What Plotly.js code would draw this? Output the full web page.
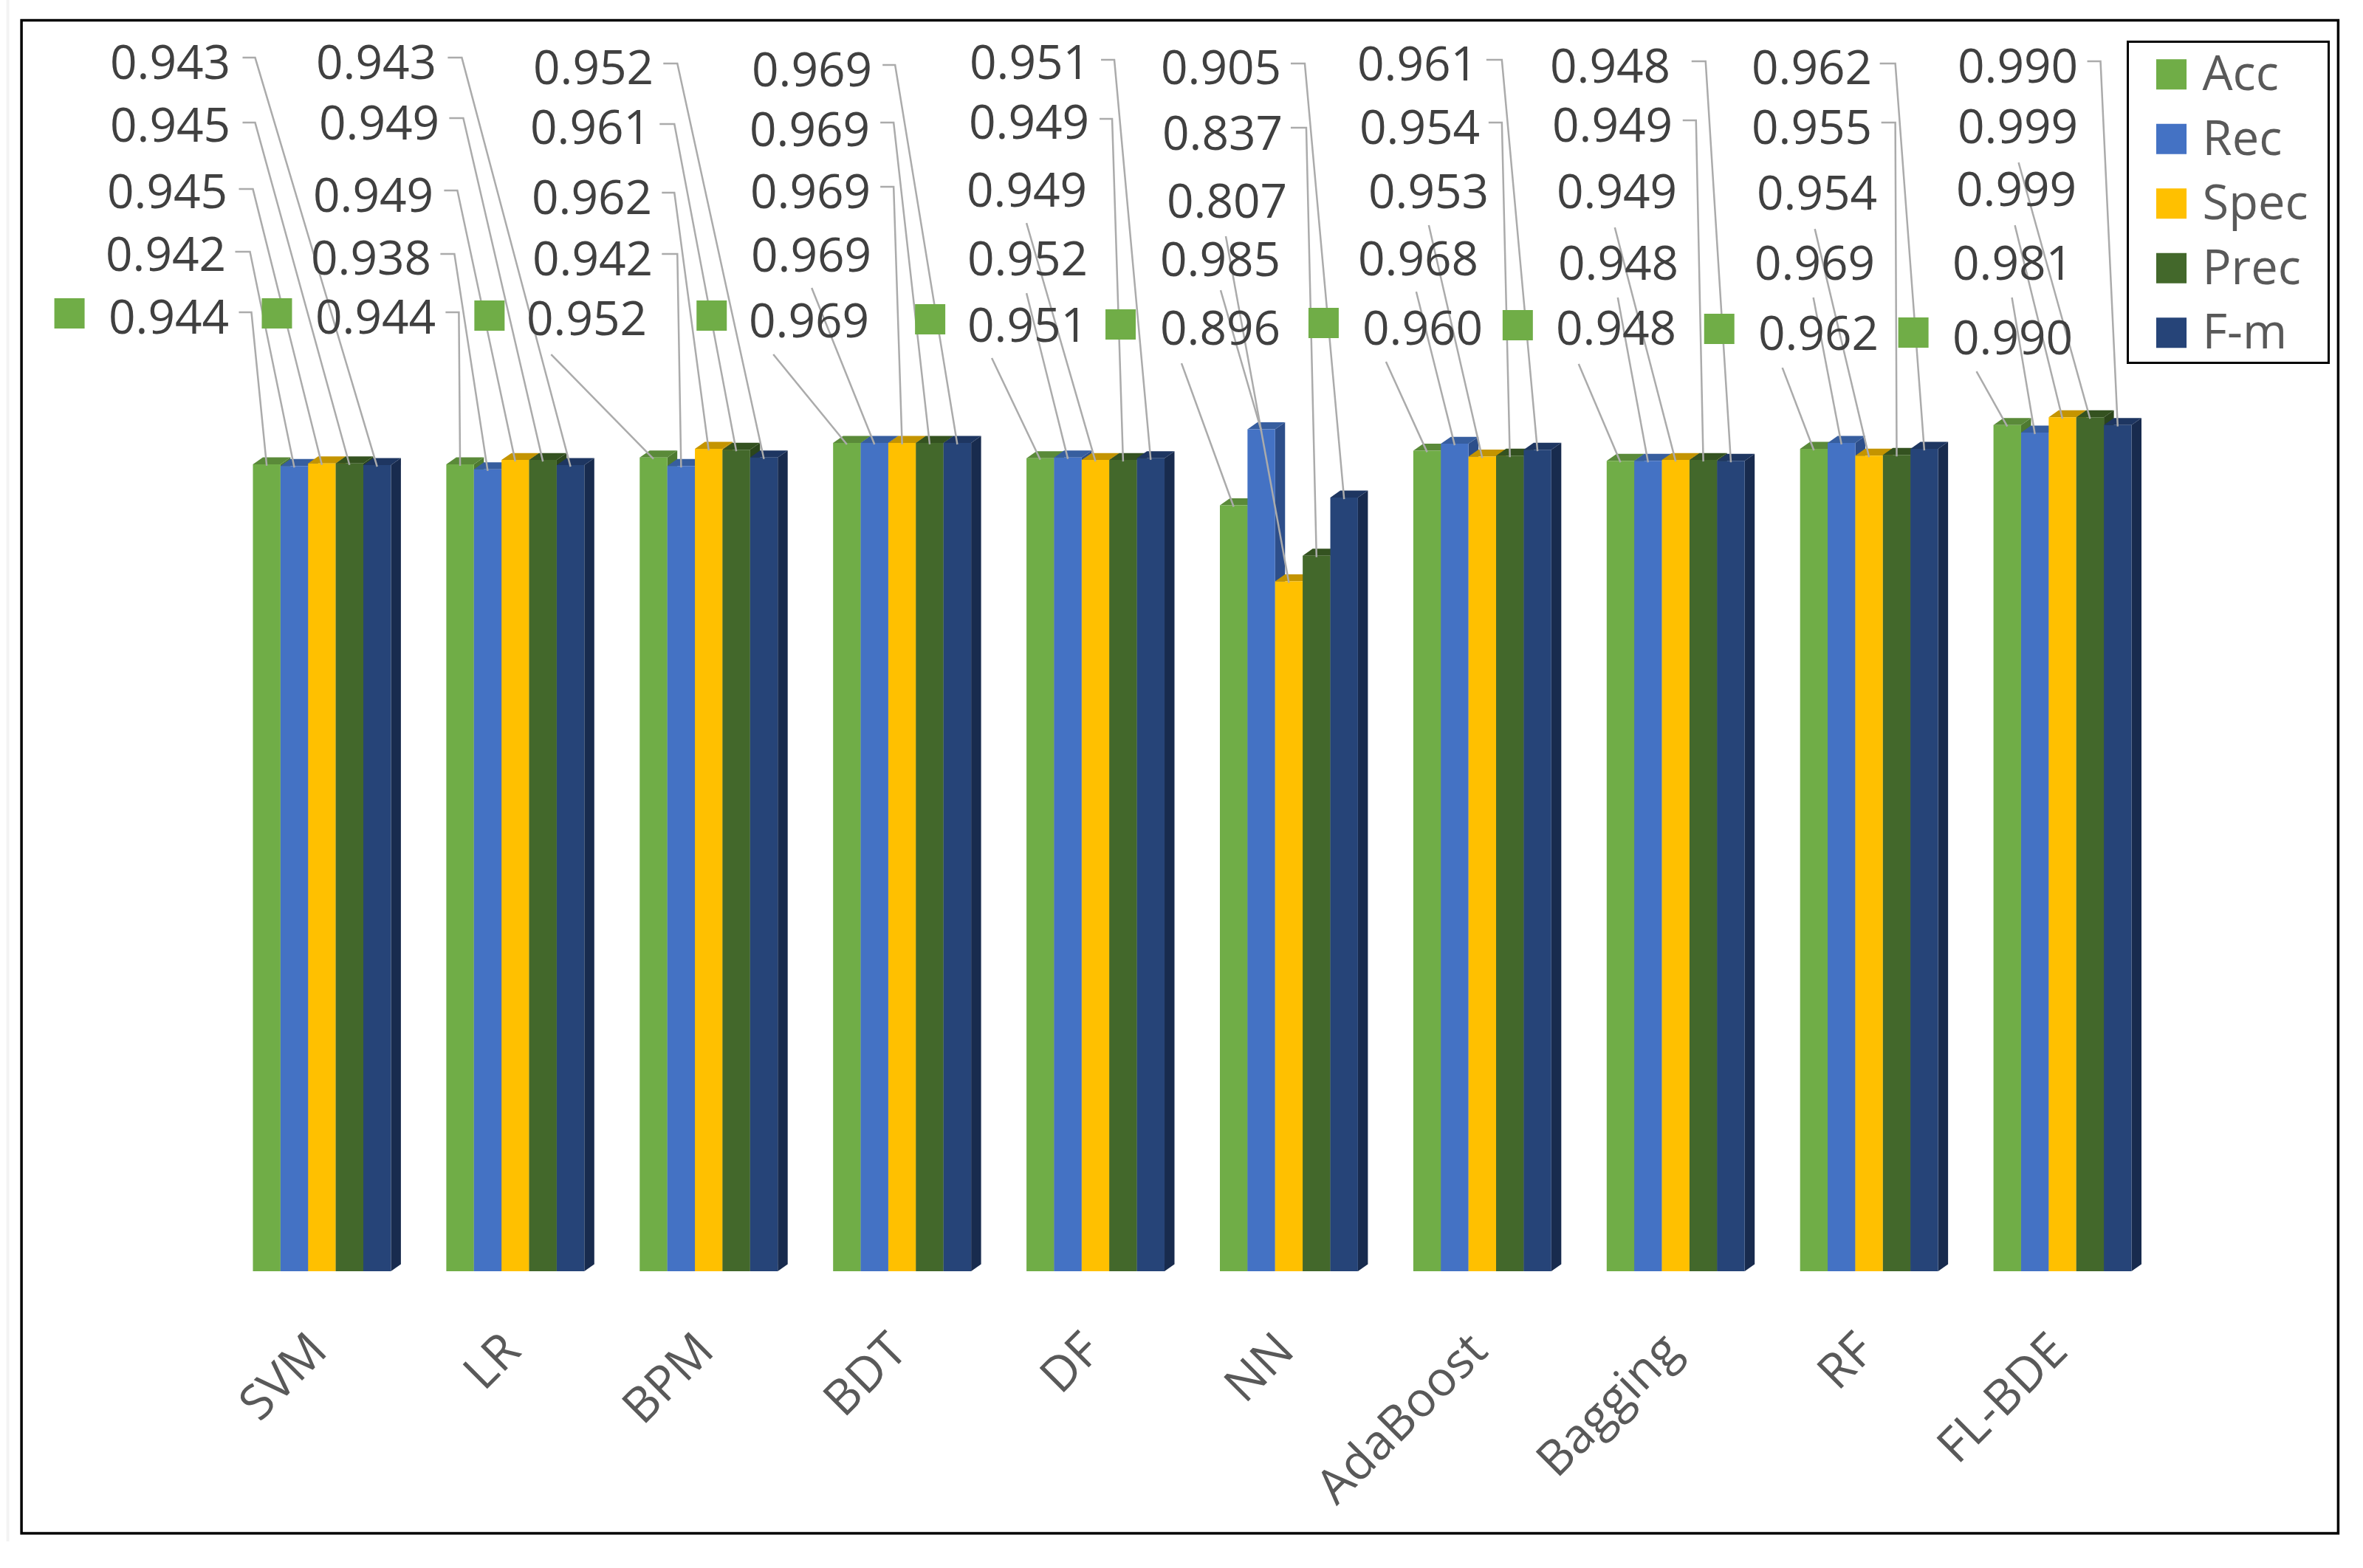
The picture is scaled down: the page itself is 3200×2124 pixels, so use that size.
<!DOCTYPE html>
<html>
<head>
<meta charset="utf-8">
<script src="https://cdn.plot.ly/plotly-3.0.1.min.js"></script>
<style>html,body{margin:0;padding:0;background:#fff}#chart{width:3200px;height:2124px}</style>
</head>
<body>
<div id="chart"></div>
<script>
const categories = ["SVM","LR","BPM","BDT","DF","NN","AdaBoost","Bagging","RF","FL-BDE"];
const seriesNames = ["Acc","Rec","Spec","Prec","F-m"];
const Acc  = [0.944,0.944,0.952,0.969,0.951,0.896,0.960,0.948,0.962,0.990];
const Rec  = [0.942,0.938,0.942,0.969,0.952,0.985,0.968,0.948,0.969,0.981];
const Spec = [0.945,0.949,0.962,0.969,0.949,0.807,0.953,0.949,0.954,0.999];
const Prec = [0.945,0.949,0.961,0.969,0.949,0.837,0.954,0.949,0.955,0.999];
const Fm   = [0.943,0.943,0.952,0.969,0.951,0.905,0.961,0.948,0.962,0.990];
const seriesValues = [Acc,Rec,Spec,Prec,Fm];

const frontColors = ["#70AD47","#4472C4","#FFC000","#43682B","#264478"];
const topColors   = ["#5A8A39","#375E9F","#C49400","#345220","#1E3661"];
const sideColors  = ["#4E7A31","#2D4E8A","#A87F00","#2C461B","#182B4E"];

// Hand-placed label positions, page pixels, [Acc, Rec, Spec, Prec, F-m] for each category
const labelRight = [
  [307,302,305,309,309],[587,581,584,592,588],[873,881,880,878,882],[1174,1177,1176,1175,1178],
  [1470,1470,1469,1472,1473],[1731,1731,1740,1734,1732],[2005,1999,2013,2001,1998],
  [2267,2270,2268,2262,2259],[2541,2536,2539,2532,2532],[2804,2804,2809,2811,2811]];
const labelMidY = [
  [429,344,259,169,84],[429,349,264,166,84],[431,350,267,172,91],[434,345,259,175,94],
  [440,350,257,165,84],[444,351,272,180,91],[444,350,259,172,86],[444,356,259,169,89],
  [451,356,261,172,91],[457,356,256,171,89]];
const leaderX = [
  [323,318,323,328,328],[603,596,601,608,606],[746,896,896,893,898],[1047,1099,1192,1192,1195],
  [1343,1390,1390,1489,1491],[1600,1653,1660,1748,1748],[1877,1918,1935,2016,2013],
  [2138,2191,2187,2279,2291],[2414,2456,2458,2548,2546],[2677,2725,2729,2734,2827]];
const leaderY = [
  [423,341,256,166,78],[423,344,258,160,78],[480,344,261,168,86],[480,390,253,166,88],
  [485,397,302,161,81],[492,393,320,173,86],[490,395,305,166,81],[493,403,308,163,83],
  [498,403,310,166,86],[503,403,305,220,83]];
const elbowX = [
  [340,338,342,345,345],[621,615,619,627,625],[null,917,913,913,917],[null,null,1210,1210,1212],
  [null,null,null,1506,1509],[null,null,null,1769,1767],[null,null,null,2034,2034],
  [null,null,null,2297,2310],[null,null,null,2567,2567],[null,null,null,null,2845]];
const keyLeft = [73,354,642,943,1239,1497,1772,2035,2308,2571];
const keyTop  = [404,404,407,407,412,419,417,420,425,430];

const W = 3200, H = 2124;
const plotL = 304.5, period = 262, plotB = 1722, unit = 1158, yMax = 1.45;
const plotW = period * categories.length, plotH = unit * yMax, plotT = plotB - plotH;
const barW = 37.4 / period;
const groupW = barW * seriesNames.length;
const depthX = 13.5 / period, depthY = 9.5 / unit;

const pxX = p => ((p - plotL) / period - 0.5).toFixed(4);
const pxY = p => ((plotB - p) / unit).toFixed(5);
const paperX = p => (p - plotL) / plotW;
const paperY = p => (plotB - p) / plotH;

const traces = seriesNames.map((name, s) => ({
  type: "bar", name, x: categories, y: seriesValues[s],
  marker: {color: frontColors[s], line: {width: 0}}, hoverinfo: "x+y"
}));

const shapes = [];
const annotations = [];

categories.forEach((c, i) => {
  seriesNames.forEach((n, s) => {
    const v = seriesValues[s][i];
    const x0 = i - groupW / 2 + s * barW, x1 = x0 + barW;
    // right side face and top face of the extruded bar
    shapes.push({type:"path", xref:"x", yref:"y", layer:"below", line:{width:0}, fillcolor:sideColors[s],
      path:`M${x1.toFixed(4)},${v} L${(x1+depthX).toFixed(4)},${(v+depthY).toFixed(5)} L${(x1+depthX).toFixed(4)},${depthY.toFixed(5)} L${x1.toFixed(4)},0 Z`});
    shapes.push({type:"path", xref:"x", yref:"y", layer:"below", line:{width:0}, fillcolor:topColors[s],
      path:`M${x0.toFixed(4)},${v} L${(x0+depthX).toFixed(4)},${(v+depthY).toFixed(5)} L${(x1+depthX).toFixed(4)},${(v+depthY).toFixed(5)} L${x1.toFixed(4)},${v} Z`});
    // leader line
    const xc = (x0 + x1) / 2, yEnd = (v - 2 / unit).toFixed(5);
    const e = elbowX[i][s], lx = leaderX[i][s], ly = leaderY[i][s];
    let p = `M${pxX(lx)},${pxY(ly)} `;
    if (e !== null) p += `L${pxX(e)},${pxY(ly)} `;
    p += `L${xc.toFixed(4)},${yEnd}`;
    shapes.push({type:"path", xref:"x", yref:"y", layer:"above", path:p, line:{color:"#ABABAB", width:2.5}});
    // value label
    annotations.push({xref:"paper", yref:"paper", x:paperX(labelRight[i][s]), y:paperY(labelMidY[i][s]),
      xanchor:"right", yanchor:"middle", xshift:4, yshift:2, text:v.toFixed(3), showarrow:false, borderpad:0,
      font:{family:"Open Sans", size:64, color:"#404040"}});
  });
  // legend key beside the Acc label
  shapes.push({type:"rect", xref:"paper", yref:"paper", layer:"above", line:{width:0}, fillcolor:frontColors[0],
    x0:paperX(keyLeft[i]), x1:paperX(keyLeft[i]+41), y0:paperY(keyTop[i]+41), y1:paperY(keyTop[i])});
});

// Chart frame and the faint scan edge left of it
shapes.push({type:"rect", xref:"paper", yref:"paper", layer:"below", fillcolor:"rgba(0,0,0,0)", line:{color:"#000", width:3.5},
  x0:paperX(28.5), x1:paperX(3167), y0:paperY(2077), y1:paperY(27.5)});
shapes.push({type:"line", xref:"paper", yref:"paper", layer:"below", line:{color:"#F3F3F3", width:4},
  x0:paperX(10), x1:paperX(10), y0:paperY(2088), y1:paperY(0)});

const layout = {
  width: W, height: H, paper_bgcolor: "#fff", plot_bgcolor: "rgba(0,0,0,0)",
  margin: {l: plotL, r: W - plotL - plotW, t: plotT, b: H - plotB, pad: 0, autoexpand: false},
  barmode: "group", bargap: 1 - groupW, bargroupgap: 0,
  font: {family: "Open Sans", color: "#595959"},
  xaxis: {type: "category", categoryorder: "array", categoryarray: categories, range: [-0.5, 9.5],
    tickangle: -45, tickfont: {family: "Open Sans", size: 65.5, color: "#595959"},
    ticks: "", ticklabelstandoff: 54, ticklabelshift: -13, showline: false, showgrid: false, zeroline: false, automargin: false},
  yaxis: {range: [0, yMax], visible: false, showgrid: false, zeroline: false, fixedrange: true},
  showlegend: true,
  legend: {x: paperX(2880), y: paperY(55), xanchor: "left", yanchor: "top", orientation: "v",
    bgcolor: "#fff", bordercolor: "#000", borderwidth: 3, traceorder: "normal",
    font: {family: "Open Sans", size: 65, color: "#595959"}, itemwidth: 90, entrywidth: 178, entrywidthmode: "pixels",
    itemclick: false, itemdoubleclick: false},
  shapes, annotations
};

Plotly.newPlot("chart", traces, layout, {displayModeBar: false, responsive: false}).then(gd => {
  gd.querySelectorAll(".legend .legendpoints path").forEach(p => {
    p.setAttribute("transform", (p.getAttribute("transform") || "") + " translate(8,4) scale(3.42)");
  });
  const box = gd.querySelector(".legend .scrollbox");
  if (box) box.setAttribute("transform", "translate(0,-10)");
  const bg = gd.querySelector(".legend rect.bg");
  if (bg) { bg.setAttribute("height", "435"); bg.setAttribute("width", "272"); }
});
</script>
</body>
</html>
